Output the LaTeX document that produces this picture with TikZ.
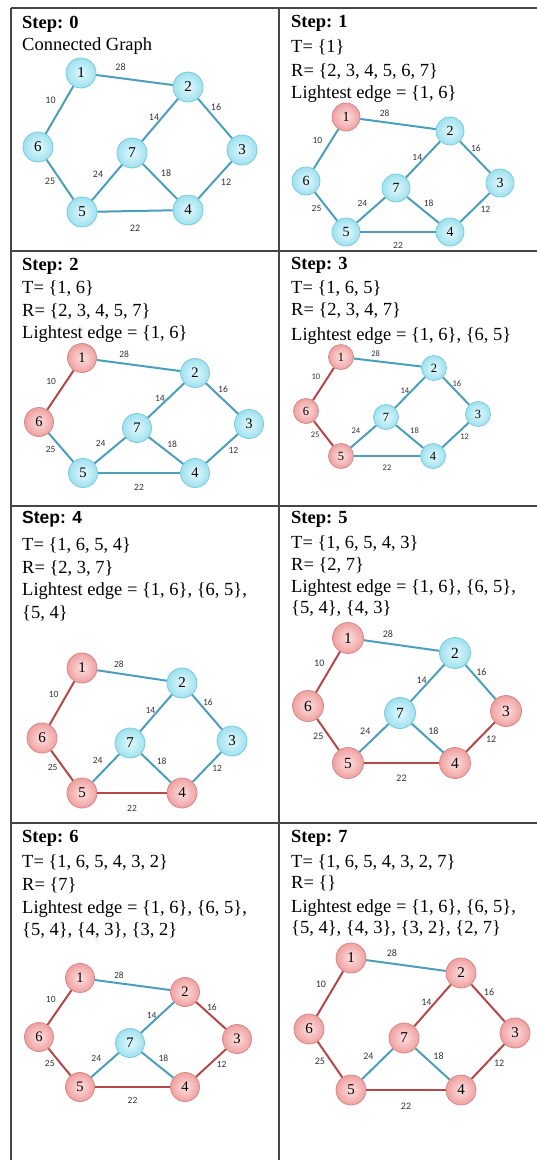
\documentclass[tikz,border=0pt]{standalone}
\usepackage{fontspec}
\setmainfont{Liberation Serif}
\newfontfamily\labfont{Carlito}
\newfontfamily\stepsans{Liberation Sans}
\usetikzlibrary{calc}

\definecolor{cyanin}{HTML}{E4F9FD}
\definecolor{cyanout}{HTML}{9EE1EF}
\definecolor{cyanrim}{HTML}{7CCADB}
\definecolor{pinkin}{HTML}{FDE0E0}
\definecolor{pinkout}{HTML}{F0A0A0}
\definecolor{pinkrim}{HTML}{D58A8A}
\definecolor{blueedge}{HTML}{4A9FBA}
\definecolor{rededge}{HTML}{B44848}
\definecolor{gridline}{HTML}{454545}
\definecolor{labgray}{HTML}{333333}

\tikzset{
  vertex/.style={circle, inner sep=0pt, inner color=nin, outer color=nout, draw=nrim, line width=0.8pt},
  gedge/.style={line width=2pt},
  elabel/.style={inner sep=0pt, text=labgray},
  celltext/.style={anchor=base west, inner sep=0pt, font=\fontsize{18.5}{22}\selectfont},
  tableline/.style={draw=gridline, line width=1.6pt},
}

\newcommand{\setgraph}[8]{%
  \coordinate (#1c1) at (#2);
  \coordinate (#1c2) at (#3);
  \coordinate (#1c3) at (#4);
  \coordinate (#1c4) at (#5);
  \coordinate (#1c5) at (#6);
  \coordinate (#1c6) at (#7);
  \coordinate (#1c7) at (#8);
}

% #1 prefix, #2 step, #3 radius, #4 sx, #5 sy, #6 label font size
\newcommand{\primgraph}[6]{%
  \foreach \n/\rk in {1/1,2/6,3/5,4/4,5/3,6/2,7/7}{%
    \ifnum\rk>#2\relax
      \colorlet{nin}{cyanin}\colorlet{nout}{cyanout}\colorlet{nrim}{cyanrim}%
    \else
      \colorlet{nin}{pinkin}\colorlet{nout}{pinkout}\colorlet{nrim}{pinkrim}%
    \fi
    \node[vertex, minimum size={2*#3pt}, font=\fontsize{#3}{#3}\selectfont] (#1\n) at (#1c\n) {\n};
  }
  \foreach \a/\b/\rk/\lab/\dx/\dy in {1/2/99/28/-14/-13, 1/6/1/10/-9/-10, 2/7/6/14/-6/-3, 2/3/5/16/1/-11, 7/5/99/24/-9/-8, 7/4/99/18/6/-8, 6/5/2/25/-10/2, 3/4/4/12/11/2, 5/4/3/22/0/17}{%
    \ifnum\rk<#2\relax \colorlet{ec}{rededge}\else \colorlet{ec}{blueedge}\fi
    \draw[gedge, draw=ec] (#1\a) -- (#1\b);
    \node[elabel, font=\labfont\fontsize{#6}{#6}\selectfont] (#1l\a\b) at ($(#1\a)!0.5!(#1\b)+(\dx*#4,\dy*#5)$) {\lab};
  }
}

\begin{document}
\begin{tikzpicture}[x=1pt, y=-1pt]
\useasboundingbox (0,0) rectangle (537,1160);

% table grid
\draw[tableline, line width=2.2pt] (11,8) -- (537,8);
\draw[tableline] (11,8) -- (11,1160);
\draw[tableline] (279,8) -- (279,1160);
\draw[tableline] (11,251) -- (537,251);
\draw[tableline] (11,506) -- (537,506);
\draw[tableline] (11,823) -- (537,823);

% ---- Step 0
\node[celltext] (t0a) at (22,28) {\textbf{Step: 0}};
\node[celltext] (t0b) at (22,50) {Connected Graph};
\setgraph{a}{81,73}{188,87}{242,150}{188,210}{82,212}{38,147}{132,153}
\primgraph{a}{0}{15}{1}{1}{10}

% ---- Step 1
\node[celltext] (t1a) at (291,27) {\textbf{Step: 1}};
\node[celltext] (t1b) at (291,52) {T= \{1\}};
\node[celltext] (t1c) at (291,76) {R= \{2, 3, 4, 5, 6, 7\}};
\node[celltext] (t1d) at (291,98) {Lightest edge = \{1, 6\}};
\setgraph{b}{346,117}{450,131}{500,183}{450,232}{346,232}{306,181}{396,188}
\primgraph{b}{1}{14}{0.95}{0.81}{9.5}

% ---- Step 2
\node[celltext] (t2a) at (22,270) {\textbf{Step: 2}};
\node[celltext] (t2b) at (22,293) {T= \{1, 6\}};
\node[celltext] (t2c) at (22,316) {R= \{2, 3, 4, 5, 7\}};
\node[celltext] (t2d) at (22,338) {Lightest edge = \{1, 6\}};
\setgraph{c}{82,358}{195,373}{249,424}{195,473}{83,473}{39,422}{137,428}
\primgraph{c}{2}{14.5}{1.03}{0.83}{9.5}

% ---- Step 3
\node[celltext] (t3a) at (291,269) {\textbf{Step: 3}};
\node[celltext] (t3b) at (291,293) {T= \{1, 6, 5\}};
\node[celltext] (t3c) at (291,315) {R= \{2, 3, 4, 7\}};
\node[celltext] (t3d) at (291,340) {Lightest edge = \{1, 6\}, \{6, 5\}};
\setgraph{d}{341,357}{434,368}{478,414}{433,456}{341,456}{306,411}{386,417}
\primgraph{d}{3}{12.5}{0.84}{0.71}{8.5}

% ---- Step 4
\node[celltext] (t4a) at (22,523) {{\stepsans\bfseries\fontsize{17.5}{22}\selectfont Step: 4}};
\node[celltext] (t4b) at (22,550) {T= \{1, 6, 5, 4\}};
\node[celltext] (t4c) at (22,573) {R= \{2, 3, 7\}};
\node[celltext] (t4d) at (22,595) {Lightest edge = \{1, 6\}, \{6, 5\},};
\node[celltext] (t4e) at (22,618) {\{5, 4\}};
\setgraph{e}{82,668}{182,683}{232,741}{182,793}{82,793}{42,738}{130,743}
\primgraph{e}{4}{15}{0.93}{0.90}{9.5}

% ---- Step 5
\node[celltext] (t5a) at (291,523) {\textbf{Step: 5}};
\node[celltext] (t5b) at (291,548) {T= \{1, 6, 5, 4, 3\}};
\node[celltext] (t5c) at (291,570) {R= \{2, 7\}};
\node[celltext] (t5d) at (291,592) {Lightest edge = \{1, 6\}, \{6, 5\},};
\node[celltext] (t5e) at (291,613) {\{5, 4\}, \{4, 3\}};
\setgraph{f}{348,638}{455,653}{506,711}{455,763}{348,763}{308,706}{400,713}
\primgraph{f}{5}{15.5}{0.97}{0.90}{10}

% ---- Step 6
\node[celltext] (t6a) at (22,842) {\textbf{Step: 6}};
\node[celltext] (t6b) at (22,867) {T= \{1, 6, 5, 4, 3, 2\}};
\node[celltext] (t6c) at (22,890) {R= \{7\}};
\node[celltext] (t6d) at (22,913) {Lightest edge = \{1, 6\}, \{6, 5\},};
\node[celltext] (t6e) at (22,935) {\{5, 4\}, \{4, 3\}, \{3, 2\}};
\setgraph{g}{80,978}{185,992}{237,1039}{185,1087}{80,1087}{39,1037}{130,1043}
\primgraph{g}{6}{14.5}{0.97}{0.78}{9.5}

% ---- Step 7
\node[celltext] (t7a) at (291,842) {\textbf{Step: 7}};
\node[celltext] (t7b) at (291,867) {T= \{1, 6, 5, 4, 3, 2, 7\}};
\node[celltext] (t7c) at (291,888) {R= \{\}};
\node[celltext] (t7d) at (291,912) {Lightest edge = \{1, 6\}, \{6, 5\},};
\node[celltext] (t7e) at (291,933) {\{5, 4\}, \{4, 3\}, \{3, 2\}, \{2, 7\}};
\setgraph{h}{351,958}{461,973}{515,1033}{461,1090}{351,1090}{309,1029}{404,1038}
\primgraph{h}{7}{15}{1.01}{0.95}{10}

\end{tikzpicture}
\end{document}
